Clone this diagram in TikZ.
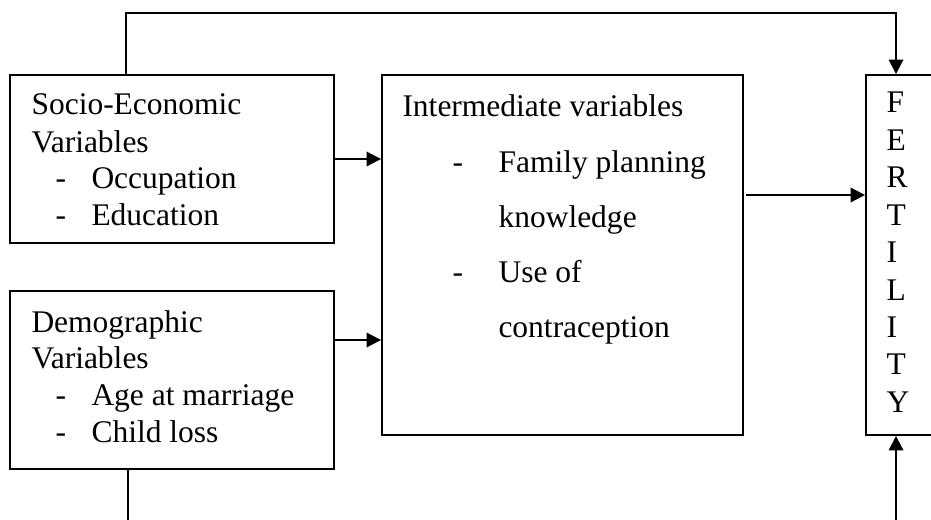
\documentclass[tikz,border=0pt]{standalone}
\usepackage{fontspec}
\setmainfont{Liberation Serif}
\usetikzlibrary{arrows.meta,positioning,calc}

\begin{document}
\begin{tikzpicture}[
            x=0.4pt, y=-0.4pt,
            box/.style={draw, rectangle, line width=0.75pt, inner sep=0pt},
            txt/.style={anchor=base west, inner sep=0pt, font=\fontsize{12.6}{14}\selectfont},
            link/.style={line width=0.75pt, -{Triangle[length=5.8pt,width=5.8pt]}}
        ]
            \useasboundingbox (0,0) rectangle (931,519);
            \clip (0,0) rectangle (931,519);

            % boxes
            \node[box, minimum width=129.6pt, minimum height=67.2pt] (socio) at (172,159) {};
            \node[box, minimum width=129.6pt, minimum height=71.2pt] (demo) at (172,380) {};
            \node[box, minimum width=144.4pt, minimum height=144pt] (inter) at (562.5,255) {};
            \node[box, minimum width=40pt, minimum height=144pt] (fert) at (916,255) {};

            % socio-economic
            \node[txt] (sociohead) at (31,115) {Socio-Economic};
            \node[txt] (sociovar) at (31,152) {Variables};
            \node[txt] (sociodasha) at (55,188) {-};
            \node[txt] (occup) at (91,188) {Occupation};
            \node[txt] (sociodashb) at (55,225) {-};
            \node[txt] (educ) at (91,225) {Education};

            % demographic
            \node[txt] (demohead) at (31,332) {Demographic};
            \node[txt] (demovar) at (31,368) {Variables};
            \node[txt] (demodasha) at (55,405) {-};
            \node[txt] (agemar) at (91,405) {Age at marriage};
            \node[txt] (demodashb) at (55,442) {-};
            \node[txt] (childloss) at (91,442) {Child loss};

            % intermediate
            \node[txt] (interhead) at (402,116) {Intermediate variables};
            \node[txt] (interdasha) at (452,172) {-};
            \node[txt] (fpk) at (498,172) {Family planning};
            \node[txt] (fpkb) at (498,227) {knowledge};
            \node[txt] (interdashb) at (452,282) {-};
            \node[txt] (useof) at (498,282) {Use of};
            \node[txt] (contra) at (498,337) {contraception};

            % fertility
            \foreach \ch [count=\i] in {F,E,R,T,I,L,I,T,Y}
                \node[txt] (fert\i) at (886,{75.6+37.4*\i}) {\ch};

            \draw[link] (socio.east) -- (socio.east -| inter.west);
            \draw[link] ([yshift=16pt]demo.east) -- ([yshift=16pt]demo.east -| inter.west);
            \draw[link] ([xshift=1pt,yshift=24pt]inter.east) -- ([yshift=24pt]inter.east -| fert.west);
            \draw[link] ([xshift=-18.4pt]socio.north) -- ++(0,-61) -| ([xshift=-8pt]fert.north);
            \draw[link] ([xshift=-17.6pt]demo.south) -- ++(0,80) -| ([xshift=-8pt]fert.south);
        \end{tikzpicture}
\end{document}
